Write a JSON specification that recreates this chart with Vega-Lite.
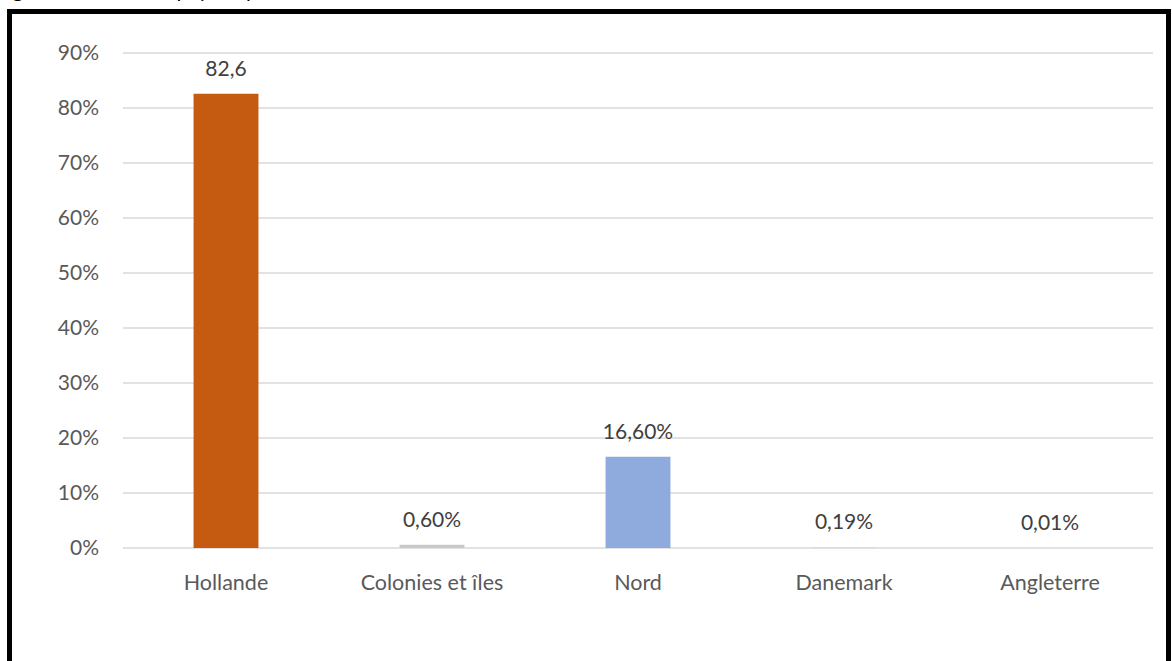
{
  "$schema": "https://vega.github.io/schema/vega-lite/v6.json",
  "autosize": {"type": "none"},
  "padding": {"left": 9.5, "top": 11.5, "right": 5, "bottom": 0},
  "width": 1159,
  "height": 655,
  "background": "white",
  "title": {
    "text": "Figure 3 : Parts des pays importateurs de café de Bordeaux en valeur (1750 – 1789)",
    "anchor": "start",
    "baseline": "alphabetic",
    "offset": 6,
    "dy": 12,
    "dx": -14,
    "font": "Lato",
    "fontSize": 21,
    "fontWeight": "normal",
    "color": "black"
  },
  "config": {
    "view": {"stroke": "black", "strokeWidth": 5},
    "font": "Lato"
  },
  "datasets": {
    "bars": [
      {"pays": "Hollande", "part": 0.826, "label": "82,6"},
      {"pays": "Colonies et îles", "part": 0.006, "label": "0,60%"},
      {"pays": "Nord", "part": 0.166, "label": "16,60%"},
      {"pays": "Danemark", "part": 0.0019, "label": "0,19%"},
      {"pays": "Angleterre", "part": 0.0001, "label": "0,01%"}
    ],
    "grid": [
      {"v": 0}, {"v": 0.1}, {"v": 0.2}, {"v": 0.3}, {"v": 0.4},
      {"v": 0.5}, {"v": 0.6}, {"v": 0.7}, {"v": 0.8}, {"v": 0.9}
    ]
  },
  "layer": [
    {
      "data": {"name": "grid"},
      "mark": {"type": "rule", "color": "#D9D9D9", "strokeWidth": 1.5},
      "encoding": {
        "y": {
          "field": "v", "type": "quantitative",
          "scale": {"domain": [0, 0.9], "range": [536.5, 41.5], "nice": false},
          "axis": {"title": null, "grid": false, "domain": false, "ticks": false, "format": ".0%", "values": [0, 0.1, 0.2, 0.3, 0.4, 0.5, 0.6, 0.7, 0.8, 0.9], "offset": -93, "labelPadding": 4, "labelFontSize": 21, "labelColor": "#595959", "labelFont": "Lato"}
        },
        "x": {"datum": 0, "type": "quantitative", "scale": {"domain": [0, 1], "range": [113.5, 1143.5]}, "axis": null},
        "x2": {"datum": 1}
      }
    },
    {
      "data": {"name": "bars"},
      "encoding": {
        "x": {
          "field": "pays", "type": "nominal", "sort": null,
          "scale": {"range": [113.5, 1143.5], "paddingInner": 0.685, "paddingOuter": 0.3425},
          "axis": {"title": null, "orient": "bottom", "offset": -96, "domain": false, "ticks": false, "labelPadding": 2, "labelAngle": 0, "labelFontSize": 21.5, "labelColor": "#595959", "labelFont": "Lato"}
        },
        "y": {
          "field": "part", "type": "quantitative",
          "scale": {"domain": [0, 0.9], "range": [536.5, 41.5], "nice": false},
          "axis": {"title": null, "grid": false, "domain": false, "ticks": false, "format": ".0%", "values": [0, 0.1, 0.2, 0.3, 0.4, 0.5, 0.6, 0.7, 0.8, 0.9], "offset": -93, "labelPadding": 4, "labelFontSize": 21, "labelColor": "#595959", "labelFont": "Lato"}
        }
      },
      "layer": [
        {
          "mark": {"type": "bar"},
          "encoding": {
            "color": {
              "field": "pays", "type": "nominal", "legend": null,
              "scale": {
                "domain": ["Hollande", "Colonies et îles", "Nord", "Danemark", "Angleterre"],
                "range": ["#C55A11", "#C9C9C9", "#8FAADC", "#F4D3C0", "#DDE6F4"]
              }
            }
          }
        },
        {
          "mark": {"type": "text", "baseline": "alphabetic", "dy": -18, "fontSize": 21, "color": "#404040", "font": "Lato"},
          "encoding": {"text": {"field": "label"}}
        }
      ]
    }
  ],
  "resolve": {"scale": {"x": "independent"}, "axis": {"x": "independent"}}
}
